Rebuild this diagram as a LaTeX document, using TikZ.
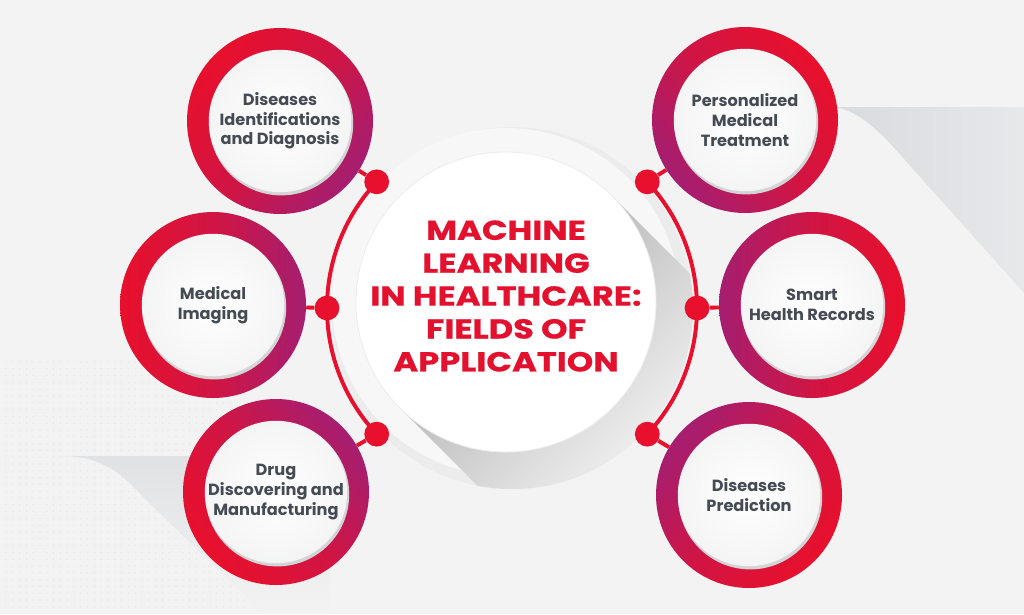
\documentclass[tikz,border=0pt]{standalone}
\usepackage{fontspec}
\setmainfont{Poppins}
\usetikzlibrary{calc}
\definecolor{bgGrey}{HTML}{F3F3F3}
\definecolor{bandDark}{HTML}{D8DADD}
\definecolor{bandLight}{HTML}{E7E8EA}
\definecolor{ringRed}{HTML}{E8102C}
\definecolor{ringPurple}{HTML}{A51E70}
\definecolor{titleRed}{HTML}{E3102E}
\definecolor{ink}{HTML}{454B54}
\definecolor{haloGrey}{HTML}{ECECEC}
\definecolor{haloLight}{HTML}{F7F7F7}
\definecolor{shadowDark}{HTML}{BDBDBD}
\definecolor{shadowLight}{HTML}{ECECEC}
\definecolor{faceEdge}{HTML}{D4D4D6}
\definecolor{dotGrey}{HTML}{E4E4E4}

\tikzset{
  ring/.style={circle, minimum size=4.65cm, inner sep=0pt,
    top color=ringPurple, bottom color=ringRed, middle color=ringRed!65!ringPurple,
    shading angle=#1,
    path picture={
      \fill[faceEdge] ([shift={(0.03,-0.06)}]path picture bounding box.center) circle (1.8);
      \shade[inner color=white, outer color=white!94!ink] (path picture bounding box.center) circle (1.78);
    },
    text=ink, align=center, font=\fontsize{11.5}{14}\selectfont\bfseries},
  knob/.style={circle, fill=ringRed, minimum size=0.62cm, inner sep=0pt},
  link/.style={draw=ringRed, line width=2.8pt},
  hub/.style={circle, fill=white, draw=black!7, line width=0.6pt, minimum size=7.5cm, inner sep=0pt},
  title/.style={text=titleRed, align=center,
    font=\fontsize{19.5}{23.4}\selectfont\bfseries\addfontfeatures{FakeStretch=1.23,FakeBold=0.6}}
}

\begin{document}
\begin{tikzpicture}
\fill[bgGrey] (0,0) rectangle (25.6,-15.35);
\useasboundingbox (0,0) rectangle (25.6,-15.35);

\shade[left color=bandDark, right color=bandLight]
  (20.75,-2.675) -- (25.6,-2.675) -- (25.6,-7.325) -- (22.625,-4.0)
  .. controls (22.225,-3.55) and (21.5,-2.675) .. (20.75,-2.675);
\foreach \i in {0,...,35}
  \foreach \j in {0,...,36}
    \fill[dotGrey] (0.15+\i*0.17, -9.05-\j*0.17) circle (0.016);
\shade[top color=bandDark!70!bgGrey, bottom color=bgGrey]
  (1.55,-11.4) -- (8.25,-11.4) -- (8.25,-15.35) -- (6.6,-15.35) -- (3.6,-12.45)
  .. controls (3.1,-11.9) and (2.6,-11.4) .. (1.55,-11.4);

\coordinate (o) at (12.8,-7.7);
\coordinate (c) at (12.65,-7.55);
\fill[haloGrey] (o) circle (4.525);
\fill[haloLight] (c) circle (4.35);
\begin{scope}
  \clip ($(c)+(45:3.75)$) -- ++(5,-5) -- ($(c)+(225:3.75)+(5,-5)$) -- ($(c)+(225:3.75)$) -- cycle;
  \shade[bottom color=shadowDark, top color=shadowLight, middle color=shadowDark, shading angle=-135]
    (o) circle (4.525);
\end{scope}
\node[hub] (ml) at (c) {};
\node[title] (ttl) at ([yshift=0.15cm]ml.center) {MACHINE\\LEARNING\\IN HEALTHCARE:\\FIELDS OF\\APPLICATION};

\node[ring=-128] (diag) at (7.0,-3.025) {Diseases\\Identifications\\and Diagnosis};
\node[ring=-90] (imag) at (5.325,-7.625) {Medical\\Imaging};
\node[ring=-51] (drug) at (6.9,-12.3) {Drug\\Discovering and\\Manufacturing};
\node[ring=128] (pers) at (18.625,-3.0) {Personalized\\Medical\\Treatment};
\node[ring=90] (recs) at (20.3,-7.625) {Smart\\Health Records};
\node[ring=51] (pred) at (18.725,-12.375) {Diseases\\Prediction};

\node[knob] (k1) at ($(o)+(137:4.625)$) {};
\node[knob] (k2) at ($(o)+(180:4.625)$) {};
\node[knob] (k3) at ($(o)+(223:4.625)$) {};
\node[knob] (k4) at ($(o)+(43:4.625)$) {};
\node[knob] (k5) at ($(o)+(0:4.625)$) {};
\node[knob] (k6) at ($(o)+(-43:4.625)$) {};

\draw[link] (k1.center) arc[start angle=137, end angle=223, radius=4.625];
\draw[link] (k4.center) arc[start angle=43, end angle=-43, radius=4.625];
\draw[link] (k1) -- (diag);
\draw[link] (k2) -- (imag);
\draw[link] (k3) -- (drug);
\draw[link] (k4) -- (pers);
\draw[link] (k5) -- (recs);
\draw[link] (k6) -- (pred);
\end{tikzpicture}
\end{document}
